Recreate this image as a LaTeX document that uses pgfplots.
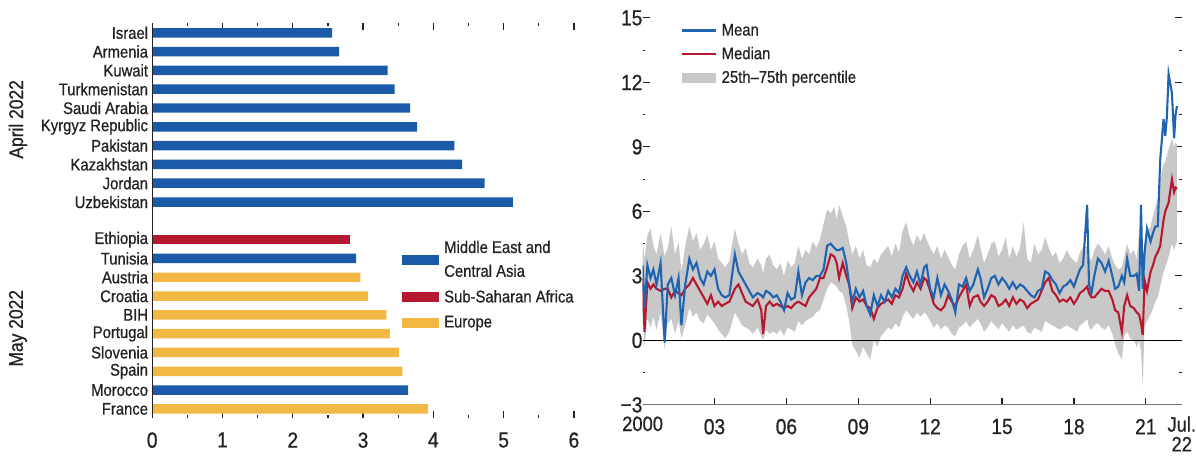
\documentclass[border=0pt]{standalone}
\usepackage{pgfplots}
\usepackage{pgfplotstable}
\pgfplotsset{compat=1.18}
\usepgfplotslibrary{fillbetween}
\usepackage{fontspec}
\setmainfont{Liberation Sans}[FakeStretch=0.88, FakeBold=0.7]
\definecolor{mblue}{HTML}{1A5AA8}
\definecolor{lblue}{HTML}{1F64B0}
\definecolor{sred}{HTML}{B5192F}
\definecolor{eyel}{HTML}{F2B844}
\definecolor{band}{HTML}{C8C8C8}
\definecolor{txt}{HTML}{222222}

\pgfplotstableread{
x lo hi m d
2000.00 1.2 4.6 3.5 2.9
2000.08 -0.3 3.8 1.5 0.4
2000.20 1.0 4.9 3.5 2.7
2000.33 0.6 5.2 2.9 2.4
2000.45 1.1 4.4 3.3 2.6
2000.58 0.5 4.0 2.6 2.4
2000.75 1.3 5.0 3.6 2.3
2000.92 -0.4 3.9 -0.1 2.4
2001.05 0.8 4.3 2.6 2.4
2001.20 1.0 5.3 2.9 2.0
2001.35 0.3 4.0 2.1 2.3
2001.50 0.9 4.6 2.9 2.2
2001.62 0.1 3.2 0.7 2.1
2001.78 0.7 4.4 2.6 2.4
2001.95 1.5 5.3 3.8 2.6
2002.10 1.1 4.6 3.3 2.9
2002.25 1.3 5.0 3.6 2.6
2002.40 0.9 4.2 2.9 2.3
2002.55 0.8 4.5 2.6 2.0
2002.70 1.2 4.9 3.2 1.7
2002.85 1.0 4.2 3.0 2.1
2003.00 0.8 4.6 3.3 1.6
2003.15 0.5 3.8 2.4 1.8
2003.30 0.3 3.6 2.1 1.6
2003.45 0.1 3.4 2.0 1.7
2003.62 0.4 3.7 2.1 1.8
2003.85 1.3 5.2 4.0 2.4
2004.00 1.0 4.5 3.2 2.6
2004.15 0.7 4.0 2.9 2.2
2004.30 0.6 4.3 2.6 1.8
2004.45 0.5 3.6 2.3 1.7
2004.60 0.3 3.4 2.0 1.6
2004.80 0.6 3.8 2.2 1.9
2004.95 0.2 3.5 2.1 1.4
2005.03 0.0 3.1 2.0 0.3
2005.15 0.5 3.8 2.3 1.6
2005.30 0.3 4.0 2.2 1.8
2005.45 0.4 3.5 2.0 1.6
2005.60 0.3 3.3 2.1 1.7
2005.75 0.5 3.6 1.8 1.6
2005.90 0.2 3.0 1.4 1.5
2006.05 0.6 3.7 2.2 1.6
2006.20 0.5 3.4 1.9 1.5
2006.35 0.4 3.6 2.0 1.7
2006.50 0.9 4.4 3.2 1.8
2006.65 0.7 3.8 2.1 1.7
2006.80 0.9 4.2 2.7 1.6
2006.95 1.0 4.0 2.9 2.0
2007.10 1.1 4.6 2.8 2.2
2007.25 1.3 4.3 3.0 2.4
2007.40 1.4 4.7 3.0 2.9
2007.55 1.9 5.4 3.3 2.9
2007.70 2.4 6.1 4.4 3.4
2007.85 2.7 5.9 4.5 4.0
2008.00 2.6 6.2 4.3 3.9
2008.10 2.5 5.6 4.2 3.6
2008.20 2.3 6.3 4.2 2.9
2008.35 2.2 5.8 4.3 3.6
2008.50 1.6 5.3 3.6 3.0
2008.62 0.9 4.6 2.6 2.6
2008.75 -0.2 4.0 1.8 1.5
2008.90 -0.5 4.4 2.4 2.0
2009.05 -0.8 3.8 2.0 1.8
2009.20 -0.3 4.2 2.3 1.9
2009.35 -0.6 3.5 1.6 1.6
2009.50 -0.9 3.4 1.2 1.5
2009.65 0.0 3.8 2.1 1.0
2009.80 -0.3 3.6 1.6 1.5
2009.95 0.2 4.0 2.1 1.7
2010.10 0.4 4.2 1.8 1.8
2010.25 0.6 4.4 2.3 1.9
2010.40 0.5 3.9 2.0 1.7
2010.55 0.8 4.5 2.4 2.1
2010.70 0.6 4.1 2.2 2.0
2010.85 1.1 5.1 3.0 2.4
2011.00 1.4 5.5 3.4 3.1
2011.15 1.2 4.8 3.0 2.6
2011.30 1.0 4.4 2.7 2.3
2011.45 1.3 4.9 3.2 2.7
2011.60 1.1 4.6 2.6 2.4
2011.75 1.3 5.0 3.4 2.9
2011.85 1.2 4.7 3.5 2.8
2012.00 0.9 4.3 2.4 2.3
2012.15 0.6 4.0 2.0 1.7
2012.30 0.8 4.4 2.9 1.5
2012.45 0.5 3.8 2.1 1.4
2012.60 0.7 4.2 2.6 1.6
2012.75 0.6 3.9 2.3 2.1
2012.90 0.3 3.5 1.9 1.8
2013.05 0.2 3.3 1.3 1.6
2013.20 0.6 4.0 2.6 2.0
2013.35 0.7 4.4 2.5 2.3
2013.50 0.9 4.6 2.9 2.6
2013.65 0.6 3.8 2.3 1.6
2013.80 0.8 4.2 2.6 2.0
2013.99 1.0 4.9 3.3 2.1
2014.10 0.8 4.3 2.9 1.8
2014.25 0.4 3.6 2.0 1.6
2014.40 0.6 4.0 2.4 1.8
2014.55 0.9 4.5 2.9 2.1
2014.70 0.7 4.6 3.0 2.0
2014.85 0.5 3.9 2.6 1.6
2015.00 0.8 4.2 2.9 1.7
2015.15 0.6 4.8 2.7 1.9
2015.30 0.4 3.8 2.4 1.6
2015.45 0.7 4.4 2.7 2.0
2015.60 0.5 3.9 2.4 1.7
2015.75 0.6 4.3 2.6 1.9
2015.90 0.7 5.5 2.5 1.8
2016.05 0.4 3.8 2.3 1.5
2016.20 0.3 3.6 2.1 1.7
2016.35 0.6 4.5 2.0 1.8
2016.50 0.5 4.0 2.3 1.9
2016.65 0.4 4.2 2.4 2.3
2016.80 0.9 4.8 3.2 2.7
2016.95 0.8 4.3 3.1 2.9
2017.10 0.7 3.9 2.8 2.3
2017.25 0.6 4.1 2.6 2.1
2017.40 0.5 3.6 2.2 1.8
2017.55 0.6 3.8 2.5 1.9
2017.70 0.7 4.2 2.6 1.8
2017.85 0.6 3.9 2.8 2.0
2018.00 0.5 3.7 2.5 1.7
2018.12 0.4 3.6 2.9 1.9
2018.25 0.7 4.1 3.3 2.2
2018.38 0.8 4.3 3.5 2.3
2018.55 1.0 4.4 6.3 2.5
2018.63 0.6 3.9 2.6 2.2
2018.73 0.5 3.7 2.2 2.0
2018.85 0.7 4.2 3.0 2.0
2019.00 0.8 4.5 3.8 2.2
2019.15 0.6 4.3 3.6 2.4
2019.30 0.5 4.0 3.2 2.3
2019.45 0.7 4.4 3.7 2.3
2019.60 0.3 3.8 3.0 1.9
2019.72 -0.2 3.5 2.4 1.4
2019.85 -0.6 3.3 2.5 1.3
2020.00 -0.9 3.4 3.0 0.4
2020.10 0.2 3.9 2.7 1.6
2020.22 0.4 4.5 3.8 2.1
2020.35 0.1 4.0 3.0 1.6
2020.50 0.0 4.2 3.0 1.5
2020.62 -0.3 3.8 3.1 1.3
2020.72 0.0 5.0 2.3 1.2
2020.80 -0.5 4.6 6.3 0.8
2020.87 -2.1 3.1 2.4 0.25
2020.95 0.6 4.6 4.1 2.8
2021.05 0.9 5.0 5.2 2.3
2021.20 1.2 5.3 4.6 3.2
2021.30 1.5 5.8 5.0 3.5
2021.40 1.8 6.2 5.3 3.9
2021.50 2.0 6.6 5.3 4.1
2021.60 2.5 7.5 8.4 4.4
2021.74 3.2 8.2 10.3 5.6
2021.81 3.4 8.3 9.5 6.0
2021.88 3.6 8.6 10.4 6.2
2021.95 3.9 8.9 12.4 6.4
2022.09 4.5 9.4 11.5 7.5
2022.18 4.2 9.0 9.4 6.9
2022.24 4.4 9.2 10.5 7.1
2022.30 4.6 9.1 10.9 7.05
}\inflation

\begin{document}
\begin{tikzpicture}
\path (0,0) rectangle (1196bp,458bp);
\begin{axis}[
  at={(153bp,37.5bp)}, anchor=south west,
  scale only axis, width=424bp, height=397bp,
  xmin=0, xmax=6, ymin=-0.5, ymax=20.5,
  axis line style={draw=none},
  xtick={0,...,6}, minor xtick={0.5,1.5,...,5.5},
  xtick pos=both, xticklabel pos=lower,
  tick align=inside,
  major tick length=7bp, minor tick length=3bp,
  every tick/.style={txt, line width=1.2bp},
  ytick={0,...,9,11,12,...,20},
  yticklabels={France,Morocco,Spain,Slovenia,Portugal,BIH,Croatia,Austria,Tunisia,Ethiopia,Uzbekistan,Jordan,Kazakhstan,Pakistan,Kyrgyz Republic,Saudi Arabia,Turkmenistan,Kuwait,Armenia,Israel},
  ytick style={draw=none},
  yticklabel style={font=\fontsize{17}{18}\selectfont, text=txt, inner sep=0pt, xshift=-4bp},
  xticklabel style={font=\fontsize{22}{24}\selectfont, text=txt, inner sep=0pt, yshift=-14bp},
  /pgf/number format/assume math mode=true,
  legend style={at={(0.592,0.455)}, anchor=north west, draw=none, fill=none,
    font=\fontsize{17}{24}\selectfont, text=txt, row sep=8bp, inner sep=0pt,
    cells={anchor=west, align=left}, nodes={inner xsep=6bp}},
  legend cell align=left,
]
\addplot[xbar, bar width=9.5bp, bar shift=0pt, fill=mblue, draw=none, forget plot]
  coordinates {(2.56,20) (2.66,19) (3.35,18) (3.45,17) (3.67,16) (3.77,15) (4.30,14) (4.41,13) (4.73,12) (5.13,11) (2.90,8) (3.64,1)};
\addplot[xbar, bar width=9.5bp, bar shift=0pt, fill=sred, draw=none, forget plot]
  coordinates {(2.82,9)};
\addplot[xbar, bar width=9.5bp, bar shift=0pt, fill=eyel, draw=none, forget plot]
  coordinates {(2.96,7) (3.07,6) (3.33,5) (3.38,4) (3.51,3) (3.56,2) (3.92,0)};
\addlegendimage{legend image code/.code={\fill[mblue] (0bp,-4.5bp) rectangle (36bp,4.5bp);}}
\addlegendentry{Middle East and\\Central Asia}
\addlegendimage{legend image code/.code={\fill[sred] (0bp,-4.5bp) rectangle (36bp,4.5bp);}}
\addlegendentry{Sub-Saharan Africa}
\addlegendimage{legend image code/.code={\fill[eyel] (0bp,-4.5bp) rectangle (36bp,4.5bp);}}
\addlegendentry{Europe}
\draw[txt, line width=1.5bp] (rel axis cs:0,0) -- (rel axis cs:0,1);
\end{axis}
\node[rotate=90, font=\fontsize{20}{22}\selectfont, text=txt] at (18bp,338bp) {April 2022};
\node[rotate=90, font=\fontsize{20}{22}\selectfont, text=txt] at (18bp,128bp) {May 2022};

\begin{axis}[
  at={(646bp,51bp)}, anchor=south west,
  scale only axis, width=542bp, height=389bp,
  xmin=2000, xmax=2022.5, ymin=-3, ymax=15,
  axis line style={draw=none},
  xtick={2003,2006,...,2021},
  xticklabels={03,06,09,12,15,18,21},
  extra x ticks={2000,2022.5},
  extra x tick labels={2000,{Jul.\\22}},
  extra x tick style={major tick length=0pt, xticklabel style={align=center, font=\fontsize{21}{20}\selectfont, yshift=2.5bp}},
  xtick pos=left,
  ytick={-3,0,...,15},
  yticklabels={−3,0,3,6,9,12,15},
  minor ytick={-1.5,1.5,4.5,7.5,10.5,13.5},
  ytick pos=both, yticklabel pos=left,
  tick align=inside,
  major tick length=7bp, minor tick length=2.5bp,
  every tick/.style={txt, line width=1.2bp},
  xticklabel style={font=\fontsize{22}{21}\selectfont, text=txt, inner sep=0pt, yshift=-14bp},
  yticklabel style={font=\fontsize{22}{24}\selectfont, text=txt, inner sep=0pt, xshift=0bp},
  legend style={at={(0.070,0.99)}, anchor=north west, draw=none, fill=none,
    font=\fontsize{17}{20}\selectfont, text=txt, row sep=6bp, inner sep=0pt,
    cells={anchor=west}, nodes={inner xsep=5bp}},
  legend cell align=left,
]
\addplot[draw=none, name path=lo, forget plot] table[x=x, y=lo] {\inflation};
\addplot[draw=none, name path=hi, forget plot] table[x=x, y=hi] {\inflation};
\addplot[fill=band, draw=none, forget plot] fill between[of=hi and lo];
\addplot[black, line width=1.7bp, forget plot] coordinates {(2000,0) (2022.5,0)};
\addplot[sred, line width=2.1bp, forget plot] table[x=x, y=d] {\inflation};
\addplot[lblue, line width=2.1bp, forget plot] table[x=x, y=m] {\inflation};
\addlegendimage{legend image code/.code={\draw[lblue, line width=2.4bp] (0bp,0bp) -- (34bp,0bp);}}
\addlegendentry{Mean}
\addlegendimage{legend image code/.code={\draw[sred, line width=2.4bp] (0bp,0bp) -- (34bp,0bp);}}
\addlegendentry{Median}
\addlegendimage{legend image code/.code={\fill[band] (0bp,-4.5bp) rectangle (34bp,4.5bp);}}
\addlegendentry{25th–75th percentile}
\draw[black!55, line width=2.2bp] (rel axis cs:0,0) -- (rel axis cs:1,0);
\end{axis}
\end{tikzpicture}
\end{document}
